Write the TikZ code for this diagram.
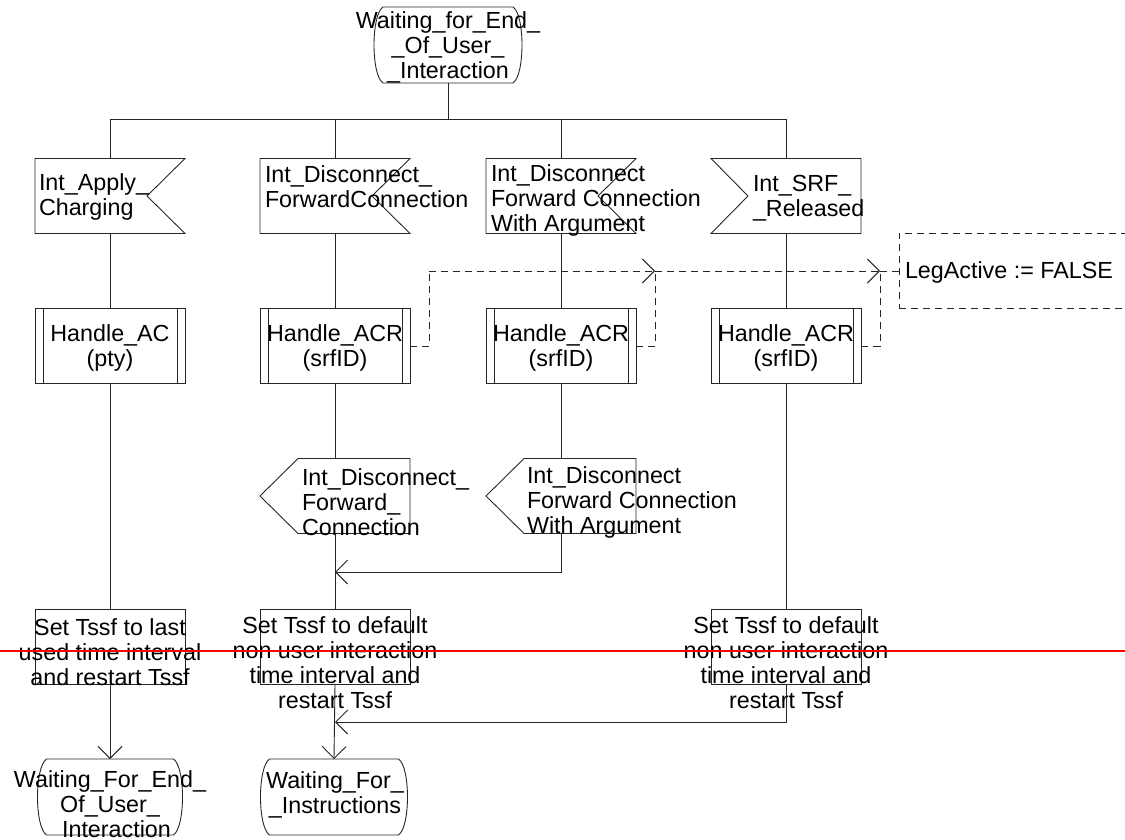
\documentclass[tikz,border=0pt]{standalone}
\usepackage{fontspec}
\setmainfont{Liberation Sans}
\usetikzlibrary{arrows.meta,calc}
\begin{document}
\begin{tikzpicture}[x=1pt,y=-1pt,
  every node/.style={inner sep=0pt,outer sep=0pt},
  frame/.style={minimum width=150pt,minimum height=75pt,draw=none},
  txt/.style={font=\fontsize{23.3}{25}\selectfont,align=center},
  ltxt/.style={font=\fontsize{23.3}{25}\selectfont,align=left,anchor=west},
  ln/.style={draw=black!85,line width=0.9pt},
  flow/.style={ln,-{Straight Barb[length=12pt,width=24pt,line width=0.9pt]}},
  dsh/.style={ln,dash pattern=on 7pt off 5pt},
  dflow/.style={dsh,-{Straight Barb[length=12pt,width=24pt,line width=0.9pt]}},
  redline/.style={draw=red,line width=2pt}
]
\useasboundingbox (0,0) rectangle (1125,840);
\clip (0,0) rectangle (1125,840);

% ---------- frames (shape reference nodes) ----------
\node[frame,minimum height=76pt] (s0) at (448,45) {};
\node[frame] (in1) at (110,196) {};
\node[frame] (in2) at (335,196) {};
\node[frame] (in3) at (561,196) {};
\node[frame] (in4) at (786,196) {};
\node[frame] (h1) at (110,346) {};
\node[frame] (h2) at (335,346) {};
\node[frame] (h3) at (561,346) {};
\node[frame] (h4) at (786,346) {};
\node[frame] (o2) at (335,496) {};
\node[frame] (o3) at (561,496) {};
\node[frame] (t1) at (110,646.5) {};
\node[frame] (t2) at (335,646.5) {};
\node[frame] (t4) at (786,646.5) {};
\node[frame,minimum width=147pt,minimum height=76pt] (f1) at (110,797) {};
\node[frame,minimum width=149pt,minimum height=76pt] (f2) at (334,797) {};
\node[dsh,draw,anchor=north west,minimum width=245pt,minimum height=75pt] (leg) at (899,233) {};

% ---------- state shapes ----------
\foreach \s in {s0,f1,f2}{
  \draw[ln] ($(\s.north west)+(10,0)$) -- ($(\s.north east)+(-10,0)$)
    .. controls ($(\s.north east)+(2,8)$) and ($(\s.south east)+(2,-8)$) .. ($(\s.south east)+(-10,0)$)
    -- ($(\s.south west)+(10,0)$)
    .. controls ($(\s.south west)+(-2,-8)$) and ($(\s.north west)+(-2,8)$) .. cycle;
}

% ---------- input signals ----------
\foreach \s in {in1,in2,in3}{
  \draw[ln] (\s.north west) -- (\s.north east) -- ($(\s.east)+(-38,0)$) -- (\s.south east) -- (\s.south west) -- cycle;
}
\draw[ln] (in4.north west) -- (in4.north east) -- (in4.south east) -- (in4.south west) -- ($(in4.west)+(37,0)$) -- cycle;

% ---------- procedure calls ----------
\foreach \s in {h1,h2,h3,h4}{
  \draw[ln] (\s.north west) rectangle (\s.south east);
  \draw[ln] ($(\s.north west)+(8,0)$) -- ($(\s.south west)+(8,0)$);
  \draw[ln] ($(\s.north east)+(-8,0)$) -- ($(\s.south east)+(-8,0)$);
}

% ---------- output signals ----------
\foreach \s in {o2,o3}{
  \draw[ln] (\s.west) -- ($(\s.north west)+(38,0)$) -- (\s.north east) -- (\s.south east) -- ($(\s.south west)+(38,0)$) -- cycle;
}

% ---------- tasks ----------
\foreach \s in {t1,t2,t4}{
  \draw[ln] (\s.north west) rectangle (\s.south east);
}

% ---------- texts ----------
\node[txt] (s0t) at (448,47) {Waiting\_for\_End\_\\\_Of\_User\_\\\_Interaction};
\node[ltxt] (in1t) at (39,197) {Int\_Apply\_\\Charging};
\node[ltxt] (in2t) at (265,187) {Int\_Disconnect\_\\ForwardConnection};
\node[ltxt] (in3t) at (491,200) {Int\_Disconnect\\Forward Connection\\With Argument};
\node[ltxt] (in4t) at (753,198) {Int\_SRF\_\\\_Released};
\node[txt] (h1t) at (110,348) {Handle\_AC\\(pty)};
\node[txt] (h2t) at (335,348) {Handle\_ACR\\(srfID)};
\node[txt] (h3t) at (561,348) {Handle\_ACR\\(srfID)};
\node[txt] (h4t) at (786,348) {Handle\_ACR\\(srfID)};
\node[ltxt] (o2t) at (302,502) {Int\_Disconnect\_\\Forward\_\\Connection};
\node[ltxt] (o3t) at (527,502) {Int\_Disconnect\\Forward Connection\\With Argument};
\node[txt] (t1t) at (110,652) {Set Tssf to last\\used time interval\\and restart Tssf};
\node[txt] (t2t) at (335,663) {Set Tssf to default\\non user interaction\\time interval and\\restart Tssf};
\node[txt] (t4t) at (786,663) {Set Tssf to default\\non user interaction\\time interval and\\restart Tssf};
\node[txt] (f1t) at (110,806) {Waiting\_For\_End\_\\Of\_User\_\\\_Interaction};
\node[txt] (f2t) at (335,795) {Waiting\_For\_\\\_Instructions};
\node[ltxt] (legt) at (905,272) {LegActive := FALSE};

% ---------- connectors ----------
\coordinate (bus) at (448,119);
\draw[ln] (s0.south) -- (bus);
\draw[ln] (in1.north |- bus) -- (in4.north |- bus);
\foreach \s in {in1,in2,in3,in4}{
  \draw[ln] (\s.north |- bus) -- (\s.north);
}
\draw[ln] (in1.south) -- (h1.north);
\draw[ln] (in2.south) -- (h2.north);
\draw[ln] (in3.south) -- (h3.north);
\draw[ln] (in4.south) -- (h4.north);
\draw[ln] (h1.south) -- (t1.north);
\draw[flow] (t1.south) -- (f1.north);
\draw[ln] (h2.south) -- (o2.north);
\draw[ln] (o2.south) -- (t2.north);
\draw[ln] (h3.south) -- (o3.north);
\coordinate (m1) at (335,572);
\draw[flow] (o3.south) |- (m1);
\draw[ln] (h4.south) -- (t4.north);
\coordinate (m2) at (335,722);
\draw[flow] (t4.south) |- (m2);
\draw[flow] (t2.south) -- (f2.north);

% dashed links
\coordinate (d2) at (429,271);
\coordinate (j3) at (655,271);
\coordinate (j4) at (880,271);
\draw[dsh] (h2.east) -| (d2);
\draw[dflow] (d2) -- (j3);
\draw[dflow] (j3) -- (j4);
\draw[dsh] (j4) -- (leg.west |- j4);
\draw[dsh] (h3.east) -| (j3);
\draw[dsh] (h4.east) -| (j4);

% red line
\draw[redline] (0,651) -- (1125,651);
\end{tikzpicture}
\end{document}
